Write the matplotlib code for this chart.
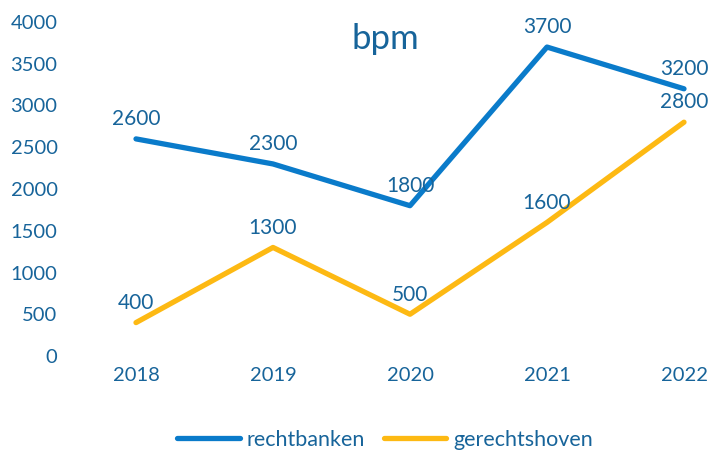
import matplotlib.pyplot as plt

plt.rcParams['font.family'] = ['Lato', 'DejaVu Sans']

years = ['2018', '2019', '2020', '2021', '2022']
rechtbanken = [2600, 2300, 1800, 3700, 3200]
gerechtshoven = [400, 1300, 500, 1600, 2800]

text_color = '#17649a'
blue = '#0a7bca'
yellow = '#fdb913'

fig = plt.figure(figsize=(7.1, 4.55), dpi=100)
ax = fig.add_axes([70 / 710, 1 - 356 / 455, 630 / 710, 334 / 455])

x = list(range(len(years)))
ax.plot(x, rechtbanken, color=blue, lw=3.8, solid_capstyle='round', label='rechtbanken')
ax.plot(x, gerechtshoven, color=yellow, lw=3.8, solid_capstyle='round', label='gerechtshoven')

for series in (rechtbanken, gerechtshoven):
    for xi, v in zip(x, series):
        ax.annotate(str(v), (xi, v), xytext=(0, 7), textcoords='offset points',
                    ha='center', va='bottom', fontsize=15, color=text_color)

ax.set_xlim(-66 / 137, 4 + 16 / 137)
ax.set_ylim(0, 4000)
ax.set_yticks(range(0, 4001, 500))
ax.set_xticks(x)
ax.set_xticklabels(years)
ax.tick_params(length=0, labelsize=14.5, labelcolor=text_color)
ax.tick_params(axis='y', pad=9)
ax.tick_params(axis='x', pad=8)
for s in ax.spines.values():
    s.set_visible(False)

ax.text(0.5, 0.95, 'bpm', transform=ax.transAxes, ha='center', va='center',
        fontsize=25, color=text_color)

leg = fig.legend(loc='center', bbox_to_anchor=(385 / 710, 1 - 440 / 455), ncol=2,
                 frameon=False, fontsize=15.5, handlelength=2.9, handletextpad=0.3,
                 columnspacing=0.9)
for t in leg.get_texts():
    t.set_color(text_color)

fig.savefig('out.png', dpi=100)
